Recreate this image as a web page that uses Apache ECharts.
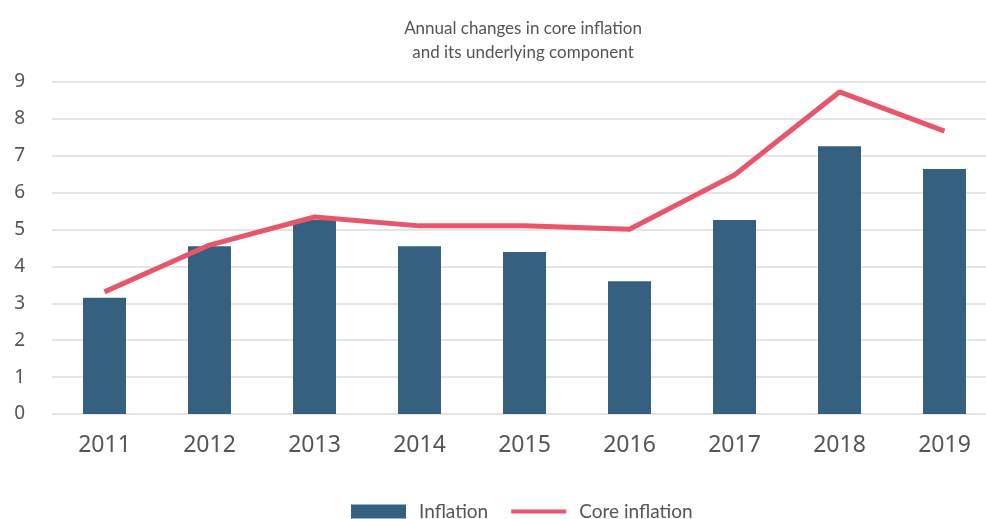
<!DOCTYPE html>
<html>
<head>
<meta charset="utf-8">
<script src="https://cdn.jsdelivr.net/npm/echarts@6/dist/echarts.min.js"></script>
<style>
  html, body { margin: 0; padding: 0; background: #fff; }
  #chart { width: 986px; height: 519px; }
</style>
</head>
<body>
<div id="chart"></div>
<script>
const years = ['2011', '2012', '2013', '2014', '2015', '2016', '2017', '2018', '2019']
const inflation = [3.15, 4.55, 5.26, 4.55, 4.39, 3.6, 5.26, 7.26, 6.64]
const coreInflation = [3.31, 4.58, 5.34, 5.1, 5.1, 5.01, 6.48, 8.73, 7.67]

const chart = echarts.init(document.getElementById('chart'))
const font = 'Lato, "Source Sans Pro", sans-serif'
// thin bar in a 55x14 box, corner specks keep the box size
const lineIcon = 'path://M0,5h55v4h-55z M0,0h0.01v0.01h-0.01z M54.99,13.99h0.01v0.01h-0.01z'

chart.setOption({
  backgroundColor: '#fff',
  animation: false,
  title: {
    text: 'Annual changes in core inflation\nand its underlying component',
    left: 518,
    textAlign: 'center',
    top: 12,
    textStyle: { fontFamily: font, fontSize: 17, fontWeight: 'normal', color: '#555', lineHeight: 24 },
  },
  legend: {
    top: 497,
    left: 346,
    itemWidth: 55,
    itemHeight: 14,
    itemGap: 23,
    textStyle: { fontFamily: font, fontSize: 19, color: '#555', padding: [0, 0, 0, 8] },
    data: [
      { name: 'Inflation', icon: 'rect' },
      { name: 'Core inflation', icon: lineIcon },
    ],
  },
  grid: { left: 52, width: 945, top: 82, bottom: 105, outerBoundsMode: 'none' },
  xAxis: {
    type: 'category',
    data: years,
    axisLine: { show: false },
    axisTick: { show: false },
    axisLabel: { fontFamily: '"Noto Sans", sans-serif', fontSize: 23, color: '#555', margin: 20 },
  },
  yAxis: {
    type: 'value',
    min: 0,
    max: 9,
    interval: 1,
    axisLabel: { fontFamily: '"Noto Sans", sans-serif', fontSize: 19, color: '#555', margin: 27 },
    splitLine: { lineStyle: { color: '#ddd', width: 1.5 } },
  },
  series: [
    {
      name: 'Inflation',
      type: 'bar',
      data: inflation,
      barWidth: 43,
      itemStyle: { color: '#36607f' },
    },
    {
      name: 'Core inflation',
      type: 'line',
      data: coreInflation,
      symbol: 'none',
      lineStyle: { color: '#e8566a', width: 5 },
      itemStyle: { color: '#e8566a' },
    },
  ],
})
</script>
</body>
</html>
